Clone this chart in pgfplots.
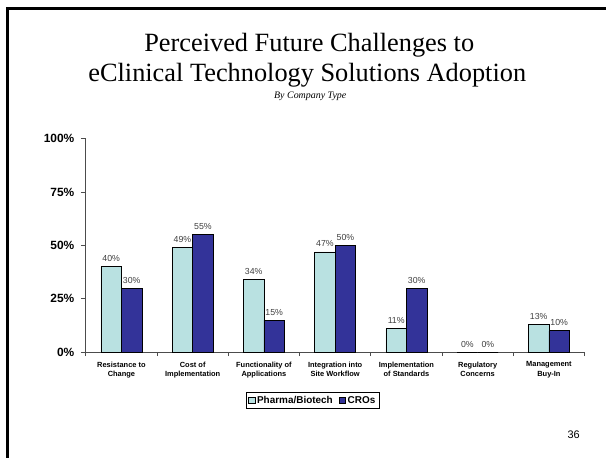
\documentclass[border=0pt]{standalone}
\usepackage{fontspec}
\setmainfont{Liberation Serif}
\newfontfamily\arial{Liberation Sans}
\usepackage{pgfplots}
\pgfplotsset{compat=1.18}
\definecolor{lightbar}{HTML}{B9E1E1}
\definecolor{darkbar}{HTML}{333399}
\begin{document}
\begin{tikzpicture}[x=1bp,y=1bp]
\path (0,0) rectangle (607,-459);
\draw[line width=3bp] (8,-459) -- (8,-9) -- (607,-9);
\node[font=\fontsize{26.5}{26.5}\selectfont] at (310,-45) {Perceived Future Challenges to};
\node[font=\fontsize{26.5}{26.5}\selectfont] at (308,-75) {eClinical Technology Solutions Adoption};
\node[font=\fontsize{10}{10}\selectfont\itshape] at (311,-97) {By Company Type};
\node[font=\arial\fontsize{11}{11}\selectfont] at (575,-436) {36};
\begin{axis}[
  at={(86bp,-353bp)}, anchor=south west,
  scale only axis, width=500bp, height=214bp,
  xmin=-0.5, xmax=6.5, ymin=0, ymax=100,
  axis x line=bottom, axis y line=left,
  axis line style={-, black!70, line width=0.8pt},
  ybar=0pt, bar width=20.5bp,
  xtick={0,...,6},
  xticklabels={{Resistance to\\Change},{Cost of\\Implementation},{Functionality of\\Applications},{Integration into\\Site Workflow},{Implementation\\of Standards},{Regulatory\\Concerns},{Management\\Buy-In}},
  xticklabel style={align=center, font=\arial\bfseries\fontsize{7.5}{10}\selectfont, yshift=-1bp},
  major x tick style={draw=none},
  minor xtick={-0.5,0.5,...,6.5},
  minor x tick style={black!70, line width=0.8pt},
  minor tick length=4bp,
  ytick={0,25,50,75,100},
  yticklabels={0\%,25\%,50\%,75\%,100\%},
  yticklabel style={font=\arial\bfseries\fontsize{12}{12}\selectfont, xshift=-3bp},
  major y tick style={black!70, line width=0.8pt},
  major tick length=5bp,
  tick align=outside,
  nodes near coords={\pgfmathprintnumber{\pgfplotspointmeta}\%},
  /pgf/number format/assume math mode=true,
  nodes near coords style={font=\arial\fontsize{8.8}{8.8}\selectfont, text=black!75, inner sep=1.5bp, yshift=3bp},
  legend style={at={(0.455,-0.226)}, anchor=center, legend columns=2,
    font=\arial\bfseries\fontsize{10}{10}\selectfont, draw=black, line width=0.6pt,
    inner sep=1.5bp, /tikz/every even column/.append style={column sep=4bp}},
  legend image code/.code={\draw[#1, line width=0.5pt] (0,-3.2bp) rectangle (6.5bp,3.2bp);},
]
\addplot[fill=lightbar, draw=black, line width=0.6pt] coordinates {(0,40) (1,49) (2,34) (3,47) (4,11) (5,0) (6,13)};
\addplot[fill=darkbar, draw=black, line width=0.6pt] coordinates {(0,30) (1,55) (2,15) (3,50) (4,30) (5,0) (6,10)};
\legend{Pharma/Biotech,CROs}
\end{axis}
\end{tikzpicture}
\end{document}
